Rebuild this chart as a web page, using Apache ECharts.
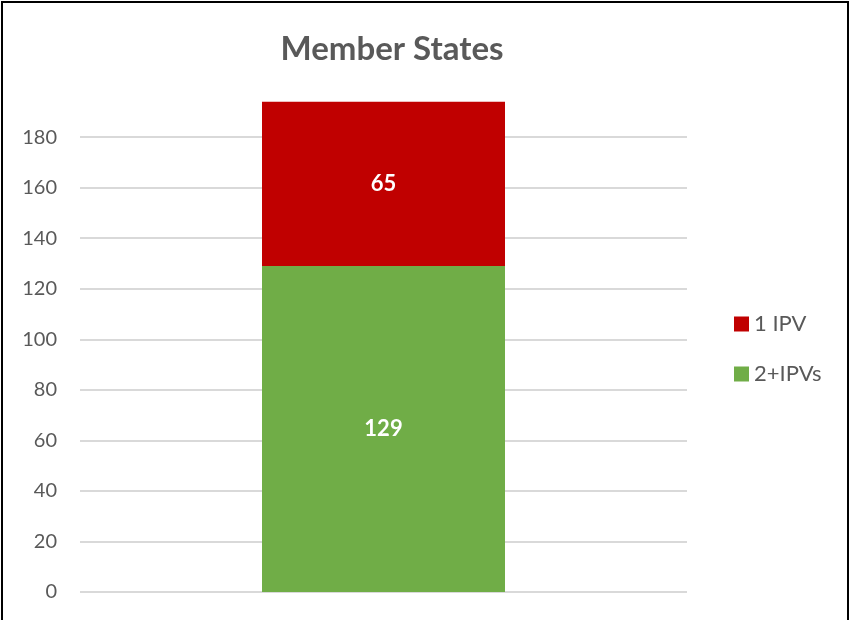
<!DOCTYPE html>
<html>
<head>
<meta charset="utf-8">
<script src="https://cdn.jsdelivr.net/npm/echarts@6/dist/echarts.min.js"></script>
<style>
  html, body { margin: 0; padding: 0; background: #fff; }
  #main { width: 852px; height: 620px; }
</style>
</head>
<body>
<div id="main"></div>
<script>
var categories = ['Member States'];
var oneIpv = [65];        // top segment
var twoPlusIpvs = [129];  // bottom segment
var yTicks = [0, 20, 40, 60, 80, 100, 120, 140, 160, 180];

var chart = echarts.init(document.getElementById('main'));

var font = 'Lato, "Open Sans", sans-serif';
// last grid line (at 200) stays hidden, like the original
var splitColors = yTicks.map(function () { return '#d9d9d9'; }).concat(['transparent']);

var option = {
  animation: false,
  backgroundColor: '#fff',
  title: {
    text: 'Member States',
    left: 387,
    textAlign: 'center',
    top: 28,
    textStyle: { fontFamily: font, fontSize: 33, fontWeight: 'bold', color: '#595959' }
  },
  graphic: [{
    type: 'rect',
    shape: { x: 2, y: 2, width: 846, height: 640 },
    style: { fill: 'none', stroke: '#000', lineWidth: 2 },
    silent: true
  }],
  legend: {
    data: ['1 IPV', '2+IPVs'],
    orient: 'vertical',
    left: 729,
    top: 308,
    itemWidth: 15,
    itemHeight: 15,
    itemGap: 28,
    icon: 'rect',
    textStyle: { fontFamily: font, fontSize: 22, lineHeight: 20, color: '#595959' }
  },
  grid: { left: 80, right: 165, top: 86.6, bottom: 28 },
  xAxis: {
    type: 'category',
    data: categories,
    axisLine: { show: false },
    axisTick: { show: false },
    axisLabel: { show: false }
  },
  yAxis: {
    type: 'value',
    min: 0,
    max: 200,
    interval: 20,
    axisLine: { show: false },
    axisTick: { show: false },
    axisLabel: {
      showMaxLabel: false,
      margin: 23,
      fontFamily: font,
      fontSize: 20,
      color: '#595959'
    },
    splitLine: { lineStyle: { color: splitColors, width: 2 } }
  },
  series: [{
    name: '2+IPVs',
    type: 'bar',
    stack: 'all',
    barWidth: 243,
    data: twoPlusIpvs,
    itemStyle: { color: '#70ad47' },
    label: { show: true, position: 'inside', fontFamily: font, fontSize: 22, fontWeight: 'bold', color: '#fff' }
  }, {
    name: '1 IPV',
    type: 'bar',
    stack: 'all',
    barWidth: 243,
    data: oneIpv,
    itemStyle: { color: '#c00000' },
    label: { show: true, position: 'inside', fontFamily: font, fontSize: 22, fontWeight: 'bold', color: '#fff' }
  }]
};

chart.setOption(option);
</script>
</body>
</html>
